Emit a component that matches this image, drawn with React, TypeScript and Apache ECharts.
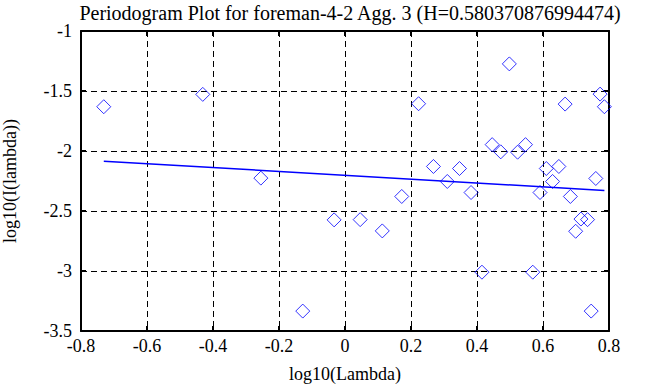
import React, { useEffect, useRef } from "react";
import * as echarts from "echarts";

const titleText = "Periodogram Plot for foreman-4-2 Agg. 3 (H=0.580370876994474)";
const xName = "log10(Lambda)";
const yName = "log10(I(lambda))";

const logLambda = [
  -0.731, -0.431, -0.255, -0.128, -0.033, 0.046, 0.113, 0.172, 0.223, 0.268, 0.31,
  0.347, 0.382, 0.415, 0.446, 0.472, 0.498, 0.523, 0.547, 0.569, 0.591, 0.61,
  0.629, 0.648, 0.667, 0.683, 0.699, 0.715, 0.735, 0.746, 0.76, 0.773, 0.786,
];
const logI = [
  -1.631, -1.528, -2.226, -3.334, -2.574, -2.572, -2.666, -2.379, -1.606, -2.129, -2.254,
  -2.146, -2.346, -3.01, -1.947, -2.007, -1.274, -2.01, -1.947, -3.01, -2.346, -2.146,
  -2.254, -2.129, -1.609, -2.379, -2.669, -2.567, -2.572, -3.334, -2.229, -1.526, -1.631,
];
const fitX = [-0.731, 0.786];
const fitY = [-2.085, -2.329];

const FONT = "Liberation Serif";

export default function App() {
  const ref = useRef<HTMLDivElement>(null);
  useEffect(() => {
    if (!ref.current) return;
    const chart = echarts.init(ref.current, undefined, { renderer: "svg" });
    const points = logLambda.map((x, i) => [x, logI[i]]);
    const fit = fitX.map((x, i) => [x, fitY[i]]);
    const axisLine = { show: true, onZero: false, lineStyle: { color: "#000", width: 2 } };
    const splitLine = { show: true, lineStyle: { color: "#000", width: 1, type: [6, 4] as any } };
    const tick = { show: true, inside: true, length: 5, lineStyle: { color: "#000", width: 2 } };
    chart.setOption({
      animation: false,
      backgroundColor: "#fff",
      title: {
        text: titleText,
        left: 345,
        textAlign: "center",
        top: -2,
        textStyle: { fontFamily: FONT, fontWeight: "normal", fontSize: 20, color: "#000" },
      },
      grid: { left: 81, right: 49, top: 31, bottom: 56, containLabel: false, outerBoundsMode: "none" },
      xAxis: [
        {
          type: "value",
          min: -0.8,
          max: 0.8,
          interval: 0.2,
          position: "bottom",
          axisLine,
          axisTick: tick,
          axisLabel: { color: "#000", fontFamily: FONT, fontSize: 18, margin: 6 },
          splitLine,
          name: xName,
          nameLocation: "middle",
          nameGap: 34,
          nameTextStyle: { color: "#000", fontFamily: FONT, fontSize: 18 },
        },
        {
          type: "value",
          min: -0.8,
          max: 0.8,
          interval: 0.2,
          position: "top",
          axisLine,
          axisTick: tick,
          axisLabel: { show: false },
          splitLine: { show: false },
        },
      ],
      yAxis: [
        {
          type: "value",
          min: -3.5,
          max: -1,
          interval: 0.5,
          position: "left",
          axisLine,
          axisTick: tick,
          axisLabel: { color: "#000", fontFamily: FONT, fontSize: 18, margin: 9 },
          splitLine,
          name: yName,
          nameLocation: "middle",
          nameGap: 62,
          nameRotate: 90,
          nameTextStyle: { color: "#000", fontFamily: FONT, fontSize: 18 },
        },
        {
          type: "value",
          min: -3.5,
          max: -1,
          interval: 0.5,
          position: "right",
          axisLine,
          axisTick: tick,
          axisLabel: { show: false },
          splitLine: { show: false },
        },
      ],
      series: [
        {
          type: "scatter",
          data: points,
          symbol: "diamond",
          symbolSize: 14,
          itemStyle: { color: "transparent", borderColor: "#0000ff", borderWidth: 1 },
          z: 3,
        },
        {
          type: "line",
          data: fit,
          showSymbol: false,
          symbol: "none",
          lineStyle: { color: "#0000ff", width: 1.5 },
          z: 4,
        },
      ],
    });
    return () => chart.dispose();
  }, []);
  return <div ref={ref} style={{ width: 658, height: 387, position: "absolute", left: 0, top: 0 }} />;
}
